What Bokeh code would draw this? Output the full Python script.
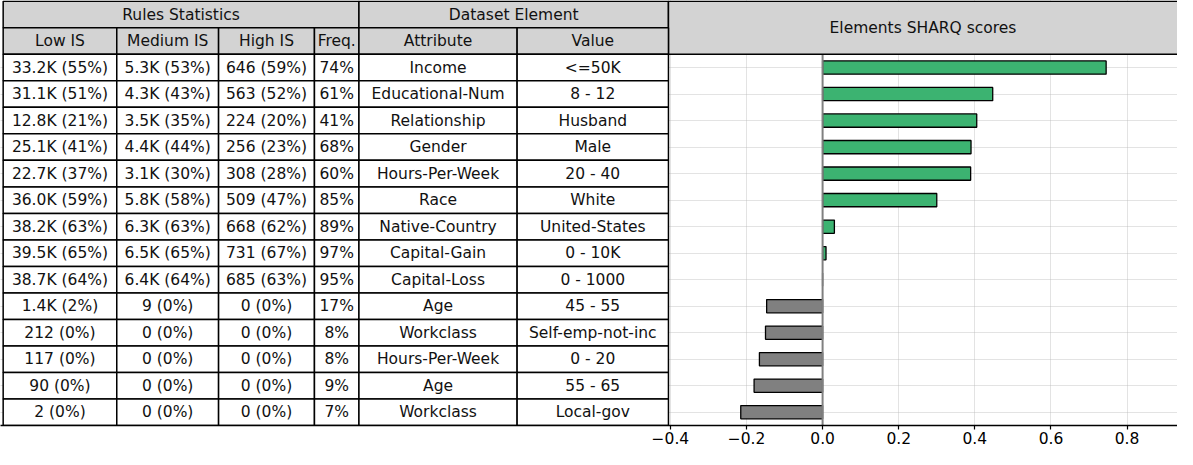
from bokeh.plotting import figure
from bokeh.models import Range1d, FixedTicker, CustomJSTickFormatter, ColumnDataSource
from bokeh.core.properties import value
from bokeh.embed import file_html
from bokeh.resources import INLINE

# ---------------- data ----------------
low_is = ["33.2K (55%)", "31.1K (51%)", "12.8K (21%)", "25.1K (41%)", "22.7K (37%)",
          "36.0K (59%)", "38.2K (63%)", "39.5K (65%)", "38.7K (64%)", "1.4K (2%)",
          "212 (0%)", "117 (0%)", "90 (0%)", "2 (0%)"]
medium_is = ["5.3K (53%)", "4.3K (43%)", "3.5K (35%)", "4.4K (44%)", "3.1K (30%)",
             "5.8K (58%)", "6.3K (63%)", "6.5K (65%)", "6.4K (64%)", "9 (0%)",
             "0 (0%)", "0 (0%)", "0 (0%)", "0 (0%)"]
high_is = ["646 (59%)", "563 (52%)", "224 (20%)", "256 (23%)", "308 (28%)",
           "509 (47%)", "668 (62%)", "731 (67%)", "685 (63%)", "0 (0%)",
           "0 (0%)", "0 (0%)", "0 (0%)", "0 (0%)"]
freq = ["74%", "61%", "41%", "68%", "60%", "85%", "89%", "97%", "95%",
        "17%", "8%", "8%", "9%", "7%"]
attributes = ["Income", "Educational-Num", "Relationship", "Gender", "Hours-Per-Week",
              "Race", "Native-Country", "Capital-Gain", "Capital-Loss", "Age",
              "Workclass", "Hours-Per-Week", "Age", "Workclass"]
values = ["<=50K", "8 - 12", "Husband", "Male", "20 - 40", "White", "United-States",
          "0 - 10K", "0 - 1000", "45 - 55", "Self-emp-not-inc", "0 - 20", "55 - 65",
          "Local-gov"]
scores = [0.745, 0.447, 0.405, 0.39, 0.389, 0.30, 0.031, 0.009, 0.0,
          -0.147, -0.15, -0.166, -0.18, -0.215]

group_headers = ["Rules Statistics", "Dataset Element"]
column_headers = ["Low IS", "Medium IS", "High IS", "Freq.", "Attribute", "Value"]
chart_title = "Elements SHARQ scores"
x_ticks = [-0.4, -0.2, 0.0, 0.2, 0.4, 0.6, 0.8]

# ---------------- layout constants ----------------
FONT = "DejaVu Sans"
FS = "15.5px"
HEAD_BG = "#d3d3d3"
col_edges = [-2.153, -1.8545, -1.587, -1.3351, -1.2182, -0.8026, -0.405]
X_END = 0.9325
n = len(scores)
HDR = 2  # header rows
Y_BOTTOM = HDR + n

p = figure(width=1177, height=449, output_backend="svg", toolbar_location=None,
           x_range=Range1d(-2.16, X_END), y_range=Range1d(Y_BOTTOM, -0.03),
           y_axis_location=None, min_border_left=0, min_border_right=0,
           min_border_top=0, min_border_bottom=24)
p.outline_line_color = None
p.background_fill_color = "white"
p.border_fill_color = "white"

row_centers = [HDR + i + 0.5 for i in range(n)]

# grid
p.xgrid.ticker = FixedTicker(ticks=x_ticks)
p.ygrid.ticker = FixedTicker(ticks=row_centers)
for g in (p.xgrid, p.ygrid):
    g.grid_line_color = "#b8b8b8"
    g.grid_line_dash = "1 1"
    g.grid_line_width = 0.8

# axis
ax = p.xaxis[0]
ax.ticker = FixedTicker(ticks=x_ticks)
ax.formatter = CustomJSTickFormatter(code="return tick.toFixed(1).replace('-', '\u2212');")
ax.axis_line_color = "black"
ax.axis_line_width = 1.5
ax.major_tick_line_color = "black"
ax.major_tick_line_width = 1.2
ax.major_tick_out = 4
ax.major_tick_in = 0
ax.minor_tick_line_color = None
ax.major_label_text_font = FONT
ax.major_label_text_font_size = FS
ax.major_label_text_color = "black"
ax.major_label_standoff = 2

# bars
colors = ["#3cb371" if s > 0 else "#808080" for s in scores]
bsrc = ColumnDataSource(dict(y=row_centers, right=scores, left=[0.0] * n, color=colors))
p.hbar(y="y", left="left", right="right", height=0.5, fill_color="color",
       line_color="black", line_width=1.3, source=bsrc)

# zero line
p.segment(x0=[0.0], y0=[HDR], x1=[0.0], y1=[Y_BOTTOM], line_color="#808080", line_width=2)

# table cells
qx0, qx1, qy0, qy1, qfill = [], [], [], [], []
qx0 += [col_edges[0], col_edges[4], col_edges[6]]
qx1 += [col_edges[4], col_edges[6], X_END + 0.05]
qy0 += [0, 0, 0]
qy1 += [1, 1, 2]
qfill += [HEAD_BG] * 3
for c in range(6):
    qx0.append(col_edges[c]); qx1.append(col_edges[c + 1])
    qy0.append(1); qy1.append(2); qfill.append(HEAD_BG)
for r in range(n):
    for c in range(6):
        qx0.append(col_edges[c]); qx1.append(col_edges[c + 1])
        qy0.append(HDR + r); qy1.append(HDR + r + 1); qfill.append("white")
p.quad(left=qx0, right=qx1, top=qy0, bottom=qy1, fill_color=qfill,
       line_color="black", line_width=1.5)

# texts
tx, ty, tt = [], [], []
tx += [(col_edges[0] + col_edges[4]) / 2, (col_edges[4] + col_edges[6]) / 2,
       (col_edges[6] + X_END) / 2]
ty += [0.5, 0.5, 1.0]
tt += group_headers + [chart_title]
for c, h in enumerate(column_headers):
    tx.append((col_edges[c] + col_edges[c + 1]) / 2); ty.append(1.5); tt.append(h)
cols = [low_is, medium_is, high_is, freq, attributes, values]
for c, col in enumerate(cols):
    for r, t in enumerate(col):
        tx.append((col_edges[c] + col_edges[c + 1]) / 2)
        ty.append(HDR + r + 0.5)
        tt.append(t)
p.text(x=tx, y=ty, text=tt, text_align="center", text_baseline="middle",
       text_font=value(FONT), text_font_size=FS, text_color="#111111")

open("out.html", "w").write(file_html(p, INLINE))
